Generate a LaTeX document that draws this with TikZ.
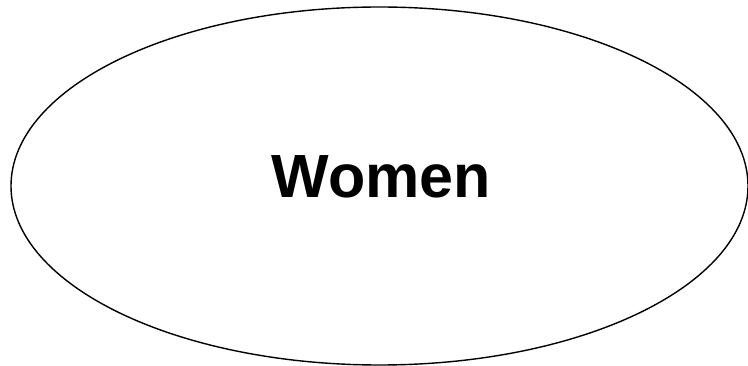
\documentclass[tikz,border=0pt]{standalone}
\usepackage{fontspec}
\setmainfont{Liberation Sans}
\usetikzlibrary{shapes.geometric}
\begin{document}
\begin{tikzpicture}[x=1pt,y=-1pt,
  oval/.style={ellipse, draw=black, line width=1.4pt, minimum width=737pt, minimum height=358pt, inner sep=0pt},
  lbl/.style={font=\fontsize{61}{65}\selectfont\bfseries}]
\useasboundingbox (0,0) rectangle (748,366);
\node[oval] (e) at (379.5,186) {};
\node[lbl] (t) at (381.5,177) {Women};
\end{tikzpicture}
\end{document}
